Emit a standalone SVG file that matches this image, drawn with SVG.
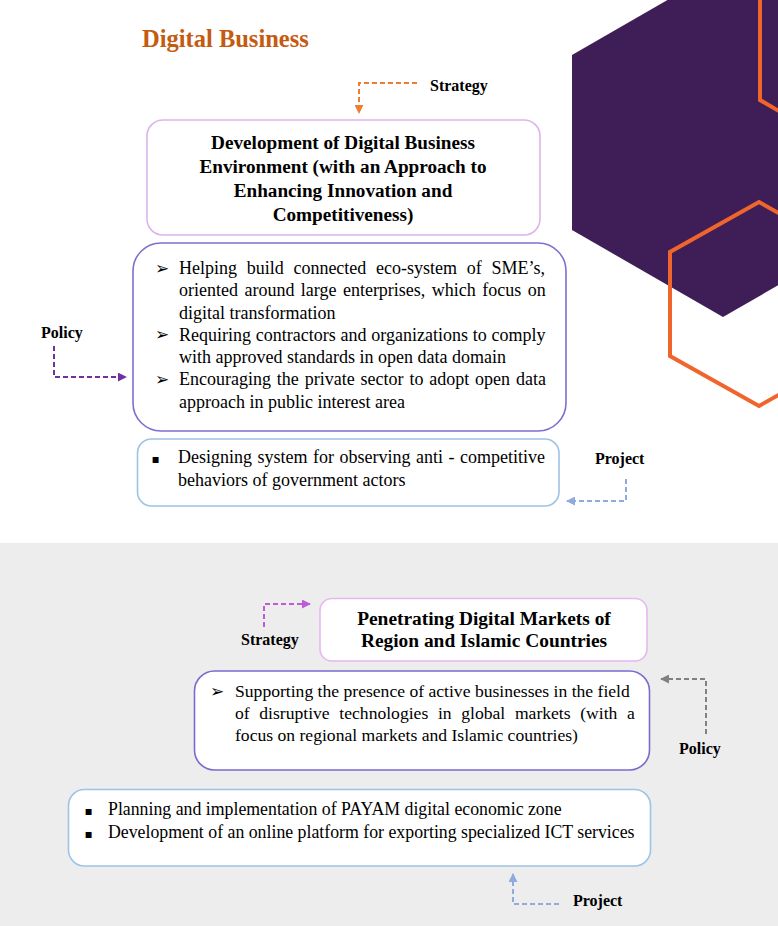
<svg xmlns="http://www.w3.org/2000/svg" width="778" height="926" viewBox="0 0 778 926">
<style>
.body{font-family:"Liberation Serif","Times New Roman",serif;font-size:18px;fill:#000}
.body2{font-family:"Liberation Serif","Times New Roman",serif;font-size:17.6px;fill:#000}
.body3{font-family:"Liberation Serif","Times New Roman",serif;font-size:17.8px;fill:#000}
.head{font-family:"Liberation Serif","Times New Roman",serif;font-size:19.2px;font-weight:bold;fill:#000;text-anchor:middle}
.lbl{font-family:"Liberation Serif","Times New Roman",serif;font-size:16px;font-weight:bold;fill:#000}
.arw{font-family:"DejaVu Sans",sans-serif;font-size:17px;fill:#000}
.sq{font-family:"DejaVu Sans",sans-serif;font-size:12px;fill:#000}
.conn{fill:none;stroke-width:2;stroke-dasharray:5 3}
.box{stroke-width:1.6}
</style>
<defs>
<marker id="ah-or" viewBox="0 0 10 10" refX="9" refY="5" markerUnits="userSpaceOnUse" markerWidth="9" markerHeight="9" orient="auto"><path d="M0,0 L10,5 L0,10 z" fill="#ed7d31"/></marker>
<marker id="ah-pu" viewBox="0 0 10 10" refX="9" refY="5" markerUnits="userSpaceOnUse" markerWidth="9" markerHeight="9" orient="auto"><path d="M0,0 L10,5 L0,10 z" fill="#7030a0"/></marker>
<marker id="ah-bl" viewBox="0 0 10 10" refX="9" refY="5" markerUnits="userSpaceOnUse" markerWidth="9" markerHeight="9" orient="auto"><path d="M0,0 L10,5 L0,10 z" fill="#8faadc"/></marker>
<marker id="ah-mg" viewBox="0 0 10 10" refX="9" refY="5" markerUnits="userSpaceOnUse" markerWidth="9" markerHeight="9" orient="auto"><path d="M0,0 L10,5 L0,10 z" fill="#bf5bd8"/></marker>
<marker id="ah-gr" viewBox="0 0 10 10" refX="9" refY="5" markerUnits="userSpaceOnUse" markerWidth="9" markerHeight="9" orient="auto"><path d="M0,0 L10,5 L0,10 z" fill="#808080"/></marker>
</defs>

<rect x="0" y="0" width="778" height="926" fill="#ffffff"/>
<rect x="0" y="543" width="778" height="383" fill="#ededed"/>

<g id="decor">
<polygon points="723,-32 874,55 874,230 723,317 572,230 572,55" fill="#3f1e57"/>
<polygon points="849,-56 938,-4 938,100 849,152 760,100 760,-4" fill="none" stroke="#f0652b" stroke-width="4"/>
<polygon points="759,202 848,252 848,356 759,406 670,356 670,252" fill="none" stroke="#f0652b" stroke-width="4"/>
</g>

<g id="title">
<text x="142" y="47" style="font-family:'Liberation Serif','Times New Roman',serif;font-size:24.5px;font-weight:bold;fill:#c55a11">Digital Business</text>
</g>

<g id="connectors">
<path class="conn" d="M417,83 H359 V113" stroke="#ed7d31" marker-end="url(#ah-or)"/>
<path class="conn" d="M54,346 V377 H126" stroke="#7030a0" marker-end="url(#ah-pu)"/>
<path class="conn" d="M626,479 V501 H567" stroke="#8faadc" marker-end="url(#ah-bl)"/>
<path class="conn" d="M264,627 V604 H310" stroke="#bf5bd8" marker-end="url(#ah-mg)"/>
<path class="conn" d="M706,734 V679 H661" stroke="#808080" marker-end="url(#ah-gr)"/>
<path class="conn" d="M559,904 H513 V874" stroke="#8faadc" marker-end="url(#ah-bl)"/>
</g>

<g id="label-strategy-1"><text class="lbl" x="430" y="91">Strategy</text></g>
<g id="label-policy-1"><text class="lbl" x="41" y="338">Policy</text></g>
<g id="label-project-1"><text class="lbl" x="595" y="464">Project</text></g>
<g id="label-strategy-2"><text class="lbl" x="241" y="645">Strategy</text></g>
<g id="label-policy-2"><text class="lbl" x="679" y="754">Policy</text></g>
<g id="label-project-2"><text class="lbl" x="573" y="906">Project</text></g>

<g id="strategy-1">
<rect class="box" x="147" y="120" width="393" height="115" rx="16" fill="#ffffff" stroke="#dcb4ec"/>
<text class="head" x="343" y="149">Development of Digital Business</text>
<text class="head" x="343" y="173">Environment (with an Approach to</text>
<text class="head" x="343" y="197">Enhancing Innovation and</text>
<text class="head" x="343" y="221">Competitiveness)</text>
</g>

<g id="policy-1">
<rect class="box" x="133" y="243" width="433" height="188" rx="28" fill="#ffffff" stroke="#7f6fcf"/>
<text class="arw" x="155" y="273.5">➢</text>
<text class="body" x="179" y="274" word-spacing="5.2">Helping build connected eco-system of SME’s,</text>
<text class="body" x="179" y="296.3" word-spacing="1.93">oriented around large enterprises, which focus on</text>
<text class="body" x="179" y="318.5">digital transformation</text>
<text class="arw" x="155" y="340.3">➢</text>
<text class="body" x="179" y="340.8" word-spacing="0.3">Requiring contractors and organizations to comply</text>
<text class="body" x="179" y="363">with approved standards in open data domain</text>
<text class="arw" x="155" y="384.7">➢</text>
<text class="body" x="179" y="385.2" word-spacing="1.37">Encouraging the private sector to adopt open data</text>
<text class="body" x="179" y="407.5">approach in public interest area</text>
</g>

<g id="project-1">
<rect class="box" x="137.5" y="439" width="421.5" height="67" rx="14" fill="#ffffff" stroke="#9dc3e6"/>
<text class="sq" x="151.5" y="462.5">▪</text>
<text class="body" x="178" y="463" word-spacing="1.0">Designing system for observing anti - competitive</text>
<text class="body" x="178" y="486">behaviors of government actors</text>
</g>

<g id="strategy-2">
<rect class="box" x="320" y="598.5" width="327" height="62.5" rx="12" fill="#ffffff" stroke="#e6b8f0"/>
<text class="head" x="484" y="625" style="font-size:19.4px">Penetrating Digital Markets of</text>
<text class="head" x="484" y="647" style="font-size:19.4px">Region and Islamic Countries</text>
</g>

<g id="policy-2">
<rect class="box" x="194.5" y="671" width="455" height="99" rx="20" fill="#ffffff" stroke="#7b6bcf"/>
<text class="arw" x="210" y="696.5">➢</text>
<text class="body2" x="235" y="697">Supporting the presence of active businesses in the field</text>
<text class="body2" x="235" y="719" word-spacing="5.26">of disruptive technologies in global markets (with a</text>
<text class="body2" x="235" y="741">focus on regional markets and Islamic countries)</text>
</g>

<g id="project-2">
<rect class="box" x="68.5" y="789.5" width="582" height="76.5" rx="16" fill="#ffffff" stroke="#9dc3e6"/>
<text class="sq" x="84.5" y="814.5">▪</text>
<text class="body3" x="108" y="815">Planning and implementation of PAYAM digital economic zone</text>
<text class="sq" x="84.5" y="837.5">▪</text>
<text class="body3" x="108" y="838">Development of an online platform for exporting specialized ICT services</text>
</g>
</svg>
